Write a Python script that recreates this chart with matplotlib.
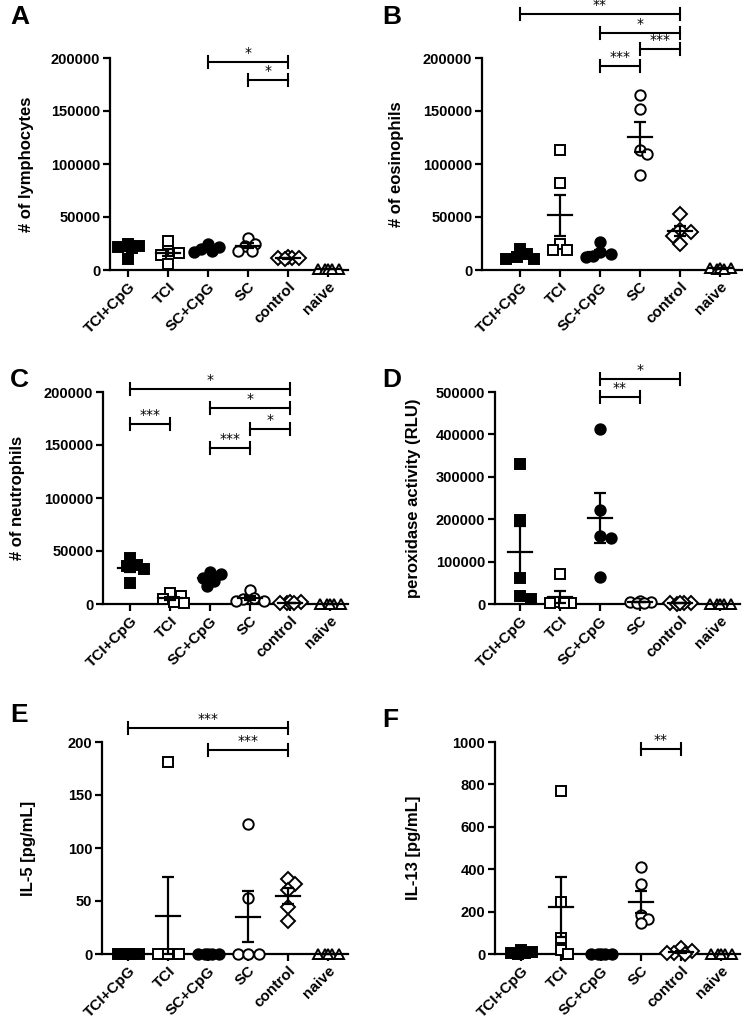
import numpy as np
import matplotlib.pyplot as plt

plt.rcParams['font.family'] = ['Liberation Sans', 'DejaVu Sans']
plt.rcParams['font.weight'] = 'bold'

groups = ['TCI+CpG', 'TCI', 'SC+CpG', 'SC', 'control', 'naive']
markers = ['s', 's', 'o', 'o', 'D', '^']
filled = [True, False, True, False, False, False]

# A - lymphocytes
lympho = [[25000, 23000, 22000, 21000, 10000],
          [27000, 18000, 16000, 14000, 6000],
          [25000, 22000, 20000, 18000, 17000],
          [30000, 25000, 23000, 18000, 18000],
          [12000, 11000, 11000, 10000, 11000],
          [1000, 1000, 500, 1000, 800]]
sig_lympho = [(2, 4, 196000, '*'), (3, 4, 179000, '*')]

# B - eosinophils
eosino = [[20000, 15000, 12000, 10000, 10000],
          [113000, 82000, 25000, 19000, 19000],
          [26000, 17000, 15000, 13000, 12000],
          [165000, 152000, 113000, 109000, 90000],
          [53000, 38000, 36000, 32000, 25000],
          [2000, 1500, 1000, 2000, 1000]]
sig_eosino = [(0, 4, 241500, '**'), (2, 4, 223600, '*'),
              (3, 4, 208500, '***'), (2, 3, 192500, '***')]

# C - neutrophils
neutro = [[43000, 37000, 36000, 33000, 20000],
          [10000, 8000, 5000, 2000, 1000],
          [30000, 28000, 25000, 22000, 17000],
          [13000, 6000, 5000, 3000, 3000],
          [1500, 1000, 1500, 1000, 1200],
          [300, 300, 300, 300, 300]]
sig_neutro = [(0, 4, 203000, '*'), (2, 4, 185000, '*'), (0, 1, 170000, '***'),
              (3, 4, 165000, '*'), (2, 3, 147000, '***')]

# D - peroxidase
perox = [[330000, 197000, 61000, 18000, 12000],
         [70000, 5000, 3000, 2000, 2000],
         [413000, 221000, 160000, 155000, 64000],
         [6000, 5000, 4000, 3000, 3000],
         [3000, 2000, 2000, 1000, 3000],
         [1000, 1000, 1000, 1000, 1000]]
sig_perox = [(2, 4, 530700, '*'), (2, 3, 488000, '**')]

# E - IL-5
il5 = [[0, 0, 0, 0, 0],
       [181, 0, 0, 0, 0],
       [0, 0, 0, 0, 0],
       [123, 53, 0, 0, 0],
       [71, 66, 60, 44, 31],
       [0, 0, 0, 0, 0]]
sig_il5 = [(0, 4, 213, '***'), (2, 4, 192.5, '***')]

# F - IL-13
il13 = [[20, 10, 5, 5, 0],
        [767, 244, 74, 20, 0],
        [0, 0, 0, 0, 0],
        [411, 328, 186, 165, 146],
        [30, 15, 5, 3, 2],
        [0, 0, 0, 0, 0]]
sig_il13 = [(3, 4, 967, '**')]

W, H = 743, 1025
fig = plt.figure(figsize=(W / 100, H / 100), dpi=100)


def swarm(vals, ypx, xpx, d=8.0, cap=14.0):
    # beeswarm-ish horizontal offsets, limited to +-cap pixels
    order = np.argsort(vals)[::-1]
    placed = []
    offs = np.zeros(len(vals))
    cands = [0.0]
    for k in range(1, int(cap / 3.5) + 1):
        cands += [k * 3.5, -k * 3.5]
    for i in order:
        y = vals[i] * ypx
        best, best_d = 0.0, -1
        for c in cands:
            md = min([np.hypot(c - px, y - py) for px, py in placed] + [1e9])
            if md >= d:
                best = c
                break
            if md > best_d:
                best, best_d = c, md
        placed.append((best, y))
        offs[i] = best / xpx
    return offs


def panel(rect, data, ymax, yticks, ylabel, sigs, xlim, letter, letter_pos):
    ax = fig.add_axes(rect)
    ax.set_xlim(*xlim)
    ax.set_ylim(0, ymax)
    xpx = rect[2] * W / (xlim[1] - xlim[0])
    ypx = rect[3] * H / ymax
    for i, vals in enumerate(data):
        vals = np.array(vals, dtype=float)
        offs = swarm(vals, ypx, xpx)
        ms = {'s': 7.5, 'o': 7.5, 'D': 7, '^': 6.5}[markers[i]]
        ax.plot(i + offs, vals, linestyle='none', marker=markers[i],
                markersize=ms,
                markerfacecolor='black' if filled[i] else 'white',
                markeredgecolor='black', markeredgewidth=1.4,
                clip_on=False, zorder=3)
        m = vals.mean()
        sem = vals.std(ddof=1) / np.sqrt(len(vals))
        ax.plot([i - 0.3, i + 0.3], [m, m], color='black', lw=1.6, zorder=4,
                clip_on=False)
        ax.errorbar(i, m, yerr=sem, color='black', lw=1.6, capsize=4.5,
                    capthick=1.6, zorder=4, clip_on=False)
    tick_h = 6 / ypx
    for a, b, y, s in sigs:
        ax.plot([a, b], [y, y], color='black', lw=1.5, clip_on=False)
        for x in (a, b):
            ax.plot([x, x], [y - tick_h, y + tick_h], color='black', lw=1.5,
                    clip_on=False)
        ax.text((a + b) / 2, y + 2 / ypx, s, ha='center', va='bottom',
                fontsize=10, fontweight='normal', family='DejaVu Sans')
    ax.spines['top'].set_visible(False)
    ax.spines['right'].set_visible(False)
    ax.spines['left'].set_linewidth(1.6)
    ax.spines['bottom'].set_linewidth(1.6)
    ax.set_yticks(yticks)
    ax.set_yticklabels([str(t) for t in yticks])
    ax.set_xticks(range(len(groups)))
    ax.set_xticklabels(groups, rotation=45, ha='right', rotation_mode='anchor')
    ax.tick_params(axis='both', width=1.6, length=5, labelsize=10.5, pad=2)
    ax.tick_params(axis='x', labelsize=11)
    ax.set_ylabel(ylabel, fontsize=12, fontweight='bold')
    fig.text(letter_pos[0] / W, 1 - letter_pos[1] / H, letter, fontsize=19,
             fontweight='bold', ha='left', va='center')
    return ax


top1, bot1 = 1 - 58 / H, 1 - 270 / H
top2, bot2 = 1 - 392 / H, 1 - 604 / H
top3, bot3 = 1 - 742 / H, 1 - 954 / H

ax = panel([110 / W, bot1, 238 / W, top1 - bot1], lympho, 200000,
           [0, 50000, 100000, 150000, 200000], '# of lymphocytes',
           sig_lympho, (-0.45, 5.5), 'A', (10, 17))
ax.yaxis.set_label_coords(-0.32, 0.5)
ax = panel([482 / W, bot1, 260 / W, top1 - bot1], eosino, 200000,
           [0, 50000, 100000, 150000, 200000], '# of eosinophils',
           sig_eosino, (-0.95, 5.55), 'B', (382, 17))
ax.yaxis.set_label_coords(-0.3, 0.5)
ax = panel([103 / W, bot2, 245 / W, top2 - bot2], neutro, 200000,
           [0, 50000, 100000, 150000, 200000], '# of neutrophils',
           sig_neutro, (-0.675, 5.45), 'C', (10, 380))
ax.yaxis.set_label_coords(-0.32, 0.5)
ax = panel([495 / W, bot2, 245 / W, top2 - bot2], perox, 500000,
           [0, 100000, 200000, 300000, 400000, 500000],
           'peroxidase activity (RLU)', sig_perox, (-0.625, 5.5), 'D', (382, 380))
ax.yaxis.set_label_coords(-0.3, 0.5)
ax = panel([102 / W, bot3, 246 / W, top3 - bot3], il5, 200,
           [0, 50, 100, 150, 200], 'IL-5 [pg/mL]',
           sig_il5, (-0.65, 5.5), 'E', (10, 715))
ax.yaxis.set_label_coords(-0.27, 0.5)
ax = panel([495 / W, bot3, 245 / W, top3 - bot3], il13, 1000,
           [0, 200, 400, 600, 800, 1000], 'IL-13 [pg/mL]',
           sig_il13, (-0.65, 5.475), 'F', (382, 720))
ax.yaxis.set_label_coords(-0.3, 0.5)

fig.savefig('out.png', dpi=100)
